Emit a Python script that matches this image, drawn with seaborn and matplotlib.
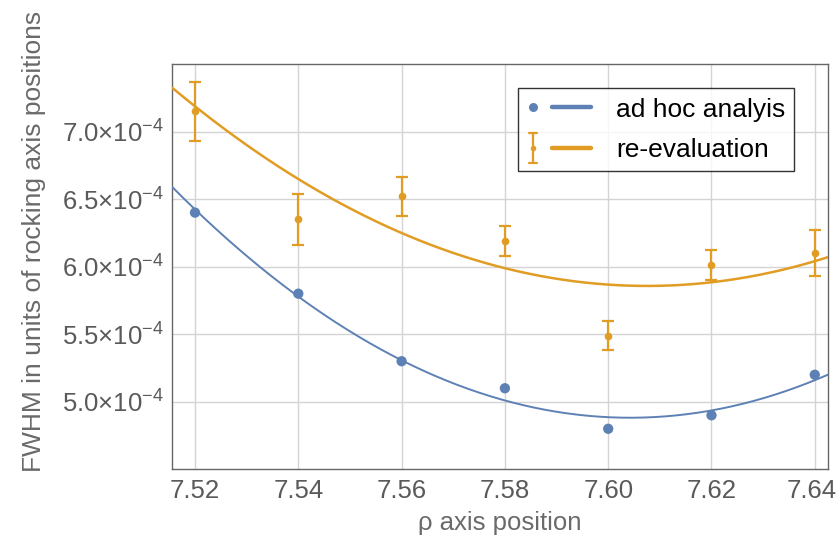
import numpy as np
import pandas as pd
import matplotlib
matplotlib.use("Agg")
import matplotlib.pyplot as plt
import matplotlib.transforms as mtransforms
import seaborn as sns
from matplotlib.legend_handler import HandlerBase
from matplotlib.lines import Line2D

# ---- data ----
rho = [7.52, 7.54, 7.56, 7.58, 7.60, 7.62, 7.64]
adhoc = [6.40e-4, 5.80e-4, 5.30e-4, 5.10e-4, 4.80e-4, 4.90e-4, 5.20e-4]
reeval = [7.15e-4, 6.35e-4, 6.52e-4, 6.19e-4, 5.49e-4, 6.01e-4, 6.10e-4]
reeval_err = [0.217e-4, 0.19e-4, 0.145e-4, 0.11e-4, 0.107e-4, 0.11e-4, 0.17e-4]
xticks = [7.52, 7.54, 7.56, 7.58, 7.60, 7.62, 7.64]
yticks = [5.0e-4, 5.5e-4, 6.0e-4, 6.5e-4, 7.0e-4]
ytick_labels = ["5.0", "5.5", "6.0", "6.5", "7.0"]
series_names = ["ad hoc analyis", "re-evaluation"]

BLUE = "#5E81B5"
ORANGE = "#E19C24"
GRAY = "#666666"

sns.set_theme(style="white")
plt.rcParams["font.family"] = ["Liberation Sans", "DejaVu Sans"]
plt.rcParams["mathtext.fontset"] = "custom"
plt.rcParams["mathtext.rm"] = "Liberation Sans"
plt.rcParams["mathtext.it"] = "Liberation Sans"

fig = plt.figure(figsize=(8.38, 5.40), dpi=100)
ax = fig.add_axes([0.2056, 0.1309, 0.9877 - 0.2056, 0.8815 - 0.1309])

xlo, xhi = 7.5156, 7.6425
ax.set_xlim(xlo, xhi)
ax.set_ylim(4.5e-4, 7.5e-4)

# quadratic fits of the data
xs = np.linspace(xlo, xhi, 300)
xc = np.array(rho) - 7.58
cb = np.polyfit(xc, adhoc, 2)
co = np.polyfit(xc, reeval, 2, w=1.0 / np.array(reeval_err))
fit_b = pd.DataFrame({"x": xs, "y": np.polyval(cb, xs - 7.58)})
fit_o = pd.DataFrame({"x": xs, "y": np.polyval(co, xs - 7.58)})

sns.lineplot(data=fit_b, x="x", y="y", color=BLUE, lw=1.4, ax=ax, legend=False, zorder=3)
sns.lineplot(data=fit_o, x="x", y="y", color=ORANGE, lw=1.8, ax=ax, legend=False, zorder=3)

pts = pd.DataFrame({"x": rho, "adhoc": adhoc, "reeval": reeval})
sns.scatterplot(data=pts, x="x", y="adhoc", color=BLUE, s=55, edgecolor="none",
                ax=ax, zorder=4, legend=False)
ax.errorbar(rho, reeval, yerr=reeval_err, fmt="o", color=ORANGE, ms=4.5,
            capsize=4.2, elinewidth=1.6, capthick=1.6, zorder=4)

# grid & frame
ax.set_xticks(xticks)
ax.set_xticklabels([f"{v:.2f}" for v in xticks])
ax.set_yticks(yticks)
ax.set_yticklabels([r"$\mathregular{" + t + r"{\times}10^{-4}}$" for t in ytick_labels])
ax.grid(True, color="#d4d4d4", lw=1.0)
ax.set_axisbelow(True)
for sp in ax.spines.values():
    sp.set_color(GRAY)
    sp.set_linewidth(1.0)
ax.tick_params(axis="both", direction="in", length=4, width=1.0, color=GRAY,
               labelcolor="#5a5a5a", labelsize=18.5, pad=6.5)
ax.tick_params(axis="x", pad=7)
# nudge the last x label so it stays inside the canvas (as in the reference)
last = ax.get_xticklabels()[-1]
last.set_transform(last.get_transform() +
                   mtransforms.ScaledTranslation(-3 / 100, 0, fig.dpi_scale_trans))

ax.set_xlabel("ρ axis position", fontsize=18.5, color="#6a6a6a", labelpad=6)
ax.set_ylabel("FWHM in units of rocking axis positions", fontsize=19,
              color="#6a6a6a")
ax.yaxis.set_label_coords(-0.193, 0.563)


# legend: dot / error-bar glyph on the left, line on the right
class GlyphLine(HandlerBase):
    def create_artists(self, legend, orig_handle, xdescent, ydescent, width,
                       height, fontsize, trans):
        color, err = orig_handle
        x0 = -xdescent
        yc = height / 2.0 - ydescent
        arts = [Line2D([x0 + 0.39 * width, x0 + width], [yc, yc], color=color, lw=3.2)]
        gx = x0 + 4.5
        if err:
            h = 10.8
            arts.append(Line2D([gx, gx], [yc - h, yc + h], color=color, lw=1.6))
            arts.append(Line2D([gx - 3, gx + 3], [yc - h, yc - h], color=color, lw=1.6))
            arts.append(Line2D([gx - 3, gx + 3], [yc + h, yc + h], color=color, lw=1.6))
            arts.append(Line2D([gx], [yc], ls="none", marker="o", ms=4.0, color=color, mec="none"))
        else:
            arts.append(Line2D([gx], [yc], ls="none", marker="o", ms=6.5, color=color, mec="none"))
        for a in arts:
            a.set_transform(trans)
        return arts


handles = [(BLUE, False), (ORANGE, True)]
leg = ax.legend(handles, series_names, handler_map={tuple: GlyphLine()},
                loc="upper left", bbox_to_anchor=(517.7 / 838, 1 - 88.3 / 540),
                bbox_transform=fig.transFigure, borderaxespad=0,
                fontsize=19, frameon=True, fancybox=False, handlelength=2.42,
                handletextpad=0.95, borderpad=0.35, labelspacing=0.63)
leg.get_frame().set_edgecolor("black")
leg.get_frame().set_linewidth(1.0)
for t in leg.get_texts():
    t.set_color("black")

fig.savefig("out.png", dpi=100)
